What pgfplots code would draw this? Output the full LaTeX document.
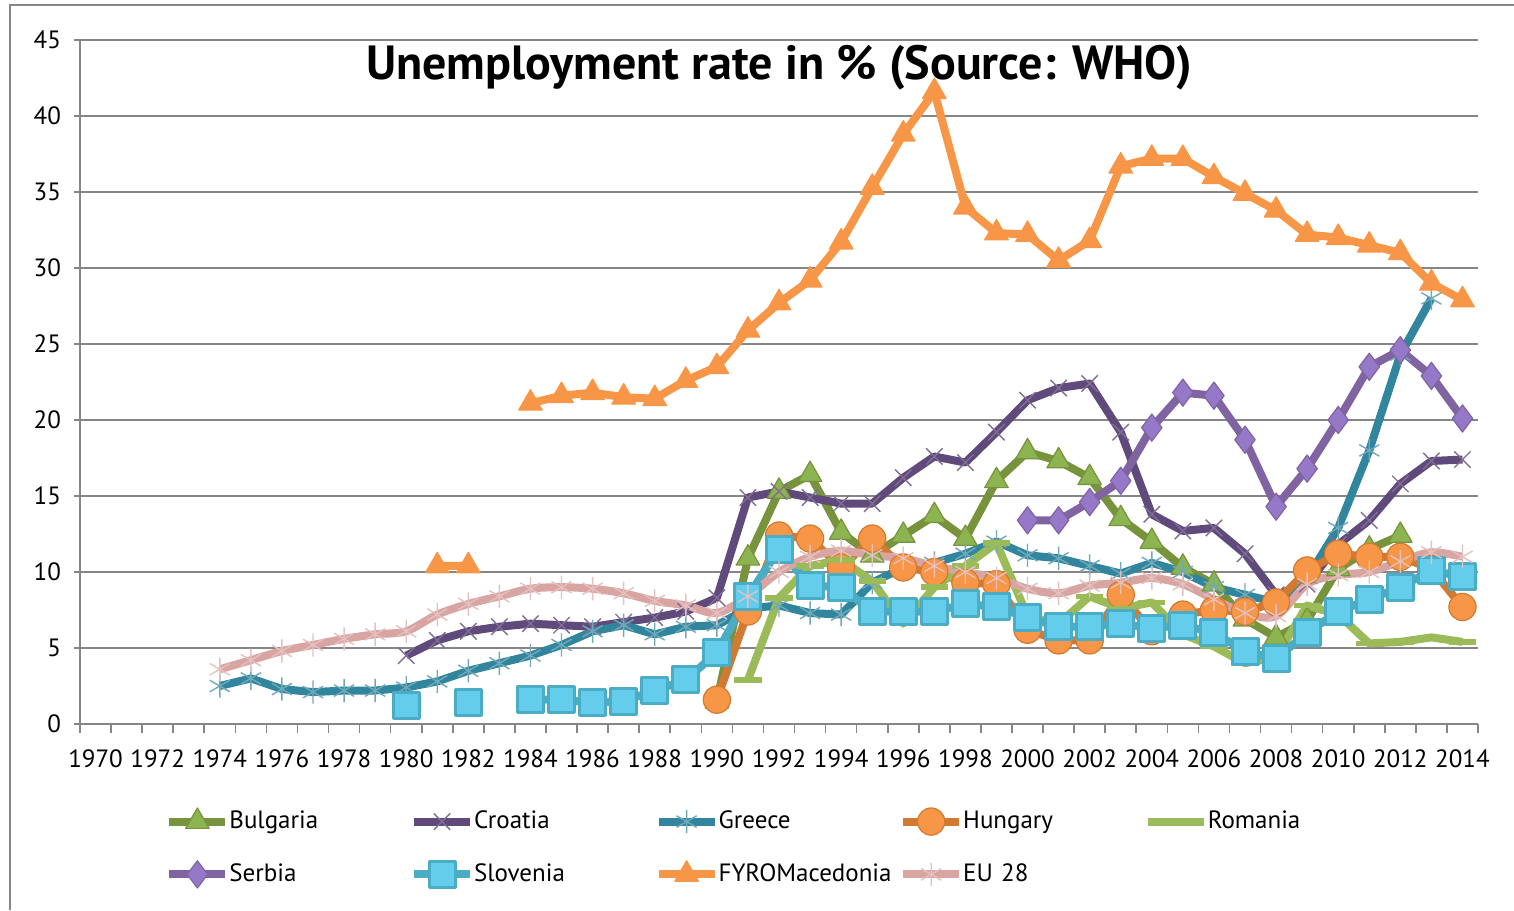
\documentclass[border=0pt]{standalone}
\usepackage{fontspec}
\setmainfont{PT Sans}
\usepackage{pgfplots}
\pgfplotsset{compat=1.18}

\definecolor{gridc}{RGB}{134,134,134}
\definecolor{bulg}{RGB}{119,147,60}
\definecolor{bulgfill}{RGB}{140,180,80}
\definecolor{croa}{RGB}{96,74,123}
\definecolor{gree}{RGB}{49,133,156}
\definecolor{hung}{RGB}{210,122,50}
\definecolor{hungfill}{RGB}{247,150,70}
\definecolor{roma}{RGB}{155,187,89}
\definecolor{serb}{RGB}{128,100,162}
\definecolor{serbfill}{RGB}{150,120,200}
\definecolor{slov}{RGB}{75,172,198}
\definecolor{slovfill}{RGB}{100,205,235}
\definecolor{fyrom}{RGB}{247,150,70}
\definecolor{eu}{RGB}{217,165,163}

\begin{document}
\begin{tikzpicture}
\useasboundingbox (-40pt,-93pt) rectangle (717pt,362pt);
\draw[gridc, line width=0.8pt] (-35pt,-93pt) -- (-35pt,359.5pt) -- (717pt,359.5pt);
\begin{axis}[
  at={(0pt,0pt)}, anchor=south west, scale only axis,
  width=699pt, height=342pt,
  xmin=1969.5, xmax=2014.5, ymin=0, ymax=45,
  xtick={1970,1972,...,2014},
  minor xtick={1969.5,1970.5,...,2014.5},
  ytick={0,5,...,45},
  ymajorgrids,
  major grid style={gridc, line width=1.4pt},
  axis lines*=left,
  axis line style={-, gridc, line width=1pt},
  tick align=outside,
  major x tick style={draw=none},
  minor x tick style={gridc, line width=0.8pt},
  ytick style={gridc, line width=0.8pt},
  minor tick length=4.5pt,
  major tick length=3pt,
  tick label style={font=\fontsize{12.5}{14}\selectfont},
  xticklabel style={yshift=-6.5pt},
  yticklabel style={xshift=-3pt},
  /pgf/number format/assume math mode=true,
  /pgf/number format/1000 sep={},
  unbounded coords=jump,
  title={Unemployment rate in \% (Source: WHO)},
  title style={at={(0.5,1)}, anchor=north, yshift=-8.5pt, inner sep=0pt,
    font=\bfseries\fontsize{24}{28}\selectfont},
  legend columns=5,
  legend cell align=left,
  legend style={at={(0.0608,-0.121)}, anchor=north west, draw=none, fill=none,
    inner sep=0pt, row sep=12pt, font=\fontsize{12.5}{14}\selectfont,
    nodes={text width=90.3pt, inner xsep=0pt}},
  legend image code/.code={\draw[#1, mark repeat=2, mark phase=2]
    plot coordinates {(0pt,0pt) (14pt,0pt) (28pt,0pt)};},
]
% Bulgaria
\addplot[bulg, line width=4pt, line join=round, mark=triangle*, mark size=6.8pt,
  mark options={solid, fill=bulgfill, draw=bulg, line width=0.6pt}] coordinates {
(1990,1.5)(1991,10.9)(1992,15.3)(1993,16.4)(1994,12.6)(1995,11.1)(1996,12.4)
(1997,13.7)(1998,12.2)(1999,16.0)(2000,17.9)(2001,17.3)(2002,16.2)(2003,13.5)
(2004,12.0)(2005,10.3)(2006,9.2)(2007,6.9)(2008,5.7)(2009,6.8)(2010,10.2)
(2011,11.5)(2012,12.4)};
\addlegendentry{Bulgaria}
% Croatia
\addplot[croa, line width=4pt, line join=round, mark=x, mark size=5.8pt,
  mark options={solid, draw=croa!80, line width=0.7pt}] coordinates {
(1980,4.5)(1981,5.5)(1982,6.1)(1983,6.4)(1984,6.6)(1985,6.5)(1986,6.4)(1987,6.7)
(1988,7.0)(1989,7.4)(1990,8.3)(1991,14.9)(1992,15.3)(1993,14.9)(1994,14.5)
(1995,14.5)(1996,16.2)(1997,17.6)(1998,17.2)(1999,19.2)(2000,21.3)(2001,22.1)
(2002,22.4)(2003,19.2)(2004,13.8)(2005,12.7)(2006,12.9)(2007,11.2)(2008,8.5)
(2009,9.2)(2010,11.8)(2011,13.4)(2012,15.8)(2013,17.3)(2014,17.4)};
\addlegendentry{Croatia}
% Greece
\addplot[gree, line width=4pt, line join=round, mark=asterisk, mark size=5.8pt,
  mark options={solid, draw=gree!70, line width=0.7pt}] coordinates {
(1974,2.5)(1975,3.0)(1976,2.3)(1977,2.1)(1978,2.2)(1979,2.2)(1980,2.4)(1981,2.8)
(1982,3.5)(1983,4.0)(1984,4.5)(1985,5.2)(1986,6.1)(1987,6.5)(1988,5.9)(1989,6.4)
(1990,6.5)(1991,7.6)(1992,7.8)(1993,7.3)(1994,7.2)(1995,9.3)(1996,10.3)(1997,10.6)
(1998,11.2)(1999,12.0)(2000,11.1)(2001,10.9)(2002,10.4)(2003,9.9)(2004,10.6)
(2005,10.0)(2006,9.0)(2007,8.5)(2008,8.0)(2009,9.6)(2010,12.9)(2011,18.0)
(2012,24.3)(2013,28.0)};
\addlegendentry{Greece}
% Hungary
\addplot[hung, line width=4pt, line join=round, mark=*, mark size=6.8pt,
  mark options={solid, fill=hungfill, draw=hung, line width=0.6pt}] coordinates {
(1990,1.6)(1991,7.4)(1992,12.4)(1993,12.2)(1994,10.3)(1995,12.2)(1996,10.3)
(1997,10.0)(1998,9.3)(1999,9.2)(2000,6.2)(2001,5.5)(2002,5.5)(2003,8.5)(2004,6.1)
(2005,7.2)(2006,7.5)(2007,7.4)(2008,8.0)(2009,10.1)(2010,11.2)(2011,11.0)
(2012,11.0)(2013,10.2)(2014,7.7)};
\addlegendentry{Hungary}
% Romania
\addplot[roma, line width=4pt, line join=round, mark=-, mark size=6.8pt,
  mark options={solid, draw=roma, line width=2.8pt}] coordinates {
(1991,2.9)(1992,8.3)(1993,10.4)(1994,10.8)(1995,9.4)(1996,6.6)(1997,9.0)
(1998,10.4)(1999,11.9)(2000,7.1)(2001,6.6)(2002,8.4)(2003,7.6)(2004,8.0)
(2005,5.9)(2006,5.1)(2007,4.0)(2008,4.4)(2009,7.8)(2010,7.2)(2011,5.3)
(2012,5.4)(2013,5.7)(2014,5.4)};
\addlegendentry{Romania}
% Serbia
\addplot[serb, line width=4pt, line join=round, mark=diamond*, mark size=6.8pt,
  mark options={solid, fill=serbfill, draw=serb, line width=0.6pt}] coordinates {
(2000,13.4)(2001,13.4)(2002,14.6)(2003,16.0)(2004,19.5)(2005,21.8)(2006,21.6)
(2007,18.7)(2008,14.3)(2009,16.8)(2010,20.0)(2011,23.5)(2012,24.6)(2013,22.9)
(2014,20.1)};
\addlegendentry{Serbia}
% Slovenia
\addplot[slov, line width=4pt, line join=round, mark=square*, mark size=6.5pt,
  mark options={solid, fill=slovfill, draw=slov, line width=1.5pt}] coordinates {
(1980,1.2)(1981,nan)(1982,1.4)(1983,nan)(1984,1.6)(1985,1.6)(1986,1.4)(1987,1.5)
(1988,2.2)(1989,2.9)(1990,4.7)(1991,8.4)(1992,11.5)(1993,9.1)(1994,9.0)(1995,7.4)
(1996,7.4)(1997,7.4)(1998,7.9)(1999,7.7)(2000,7.0)(2001,6.4)(2002,6.4)(2003,6.6)
(2004,6.3)(2005,6.5)(2006,6.0)(2007,4.8)(2008,4.3)(2009,6.0)(2010,7.4)(2011,8.2)
(2012,9.0)(2013,10.1)(2014,9.7)};
\addlegendentry{Slovenia}
% FYRO Macedonia
\addplot[fyrom, line width=4pt, line join=round, mark=triangle*, mark size=6.8pt,
  mark options={solid, fill=fyrom, draw=fyrom, line width=0.6pt}] coordinates {
(1981,10.4)(1982,10.4)(1983,nan)(1984,21.1)(1985,21.6)(1986,21.8)(1987,21.5)
(1988,21.4)(1989,22.6)(1990,23.5)(1991,25.9)(1992,27.7)(1993,29.2)(1994,31.7)
(1995,35.3)(1996,38.8)(1997,41.6)(1998,34.0)(1999,32.3)(2000,32.2)(2001,30.5)
(2002,31.8)(2003,36.7)(2004,37.2)(2005,37.2)(2006,36.0)(2007,34.9)(2008,33.8)
(2009,32.2)(2010,32.0)(2011,31.5)(2012,31.0)(2013,29.0)(2014,27.9)};
\addlegendentry{FYROMacedonia}
% EU28
\addplot[eu, line width=4pt, line join=round, smooth, mark=asterisk, mark size=5.8pt,
  mark options={solid, draw=eu!70, line width=0.7pt}] coordinates {
(1974,3.6)(1975,4.2)(1976,4.8)(1977,5.2)(1978,5.6)(1979,5.9)(1980,6.1)(1981,7.2)
(1982,7.9)(1983,8.4)(1984,8.9)(1985,9.0)(1986,8.9)(1987,8.6)(1988,8.1)(1989,7.8)
(1990,7.3)(1991,8.4)(1992,10.0)(1993,11.0)(1994,11.4)(1995,11.1)(1996,10.9)
(1997,10.4)(1998,10.0)(1999,9.6)(2000,8.9)(2001,8.6)(2002,9.1)(2003,9.3)
(2004,9.6)(2005,9.2)(2006,8.2)(2007,7.3)(2008,7.1)(2009,9.2)(2010,9.8)
(2011,10.0)(2012,10.7)(2013,11.3)(2014,11.0)};
\addlegendentry{EU 28}
\end{axis}
\end{tikzpicture}
\end{document}
